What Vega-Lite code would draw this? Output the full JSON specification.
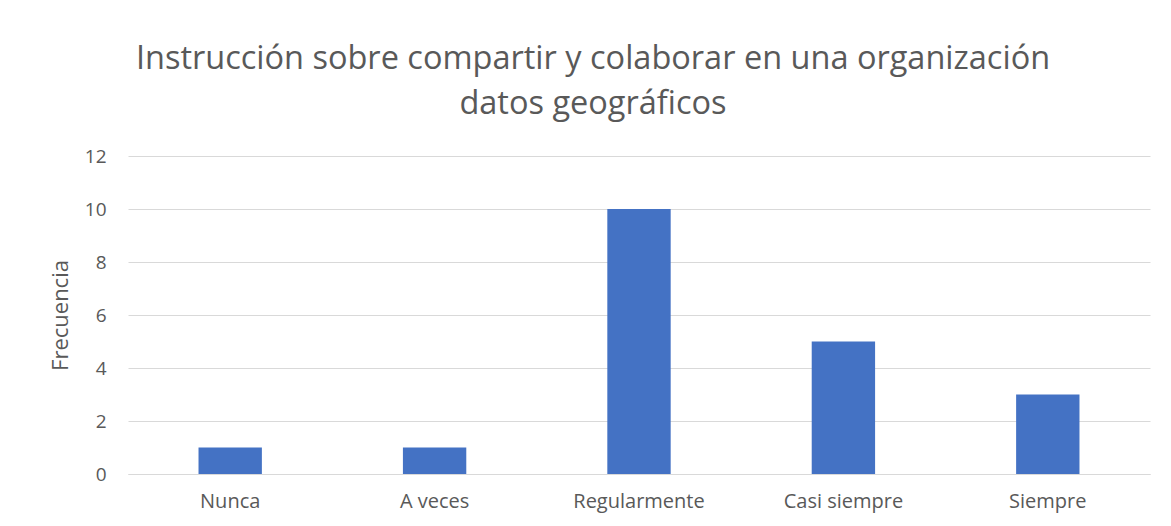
{
  "$schema": "https://vega.github.io/schema/vega-lite/v6.json",
  "width": 1022,
  "height": 318,
  "autosize": {"type": "none"},
  "padding": {"left": 128, "top": 156, "right": 21, "bottom": 52},
  "background": "white",
  "config": {
    "view": {"stroke": null},
    "font": "Open Sans"
  },
  "title": {
    "text": ["Instrucción sobre compartir y colaborar en una organización", "datos geográficos"],
    "fontSize": 32.5,
    "fontWeight": "normal",
    "color": "#595959",
    "font": "Open Sans",
    "anchor": "middle",
    "lineHeight": 45,
    "offset": 27,
    "dx": -46
  },
  "data": {
    "values": [
      {"categoria": "Nunca", "frecuencia": 1},
      {"categoria": "A veces", "frecuencia": 1},
      {"categoria": "Regularmente", "frecuencia": 10},
      {"categoria": "Casi siempre", "frecuencia": 5},
      {"categoria": "Siempre", "frecuencia": 3}
    ]
  },
  "mark": {"type": "bar", "color": "#4472C4", "width": {"band": 0.31}},
  "encoding": {
    "x": {
      "field": "categoria",
      "type": "nominal",
      "sort": null,
      "scale": {"paddingInner": 0, "paddingOuter": 0},
      "axis": {
        "title": null,
        "labelAngle": 0,
        "labelFontSize": 20,
        "labelColor": "#595959",
        "labelPadding": 17,
        "ticks": false,
        "domainColor": "#d9d9d9",
        "domainWidth": 1
      }
    },
    "y": {
      "field": "frecuencia",
      "type": "quantitative",
      "scale": {"domain": [0, 12]},
      "axis": {
        "title": "Frecuencia",
        "titleFontSize": 22,
        "titleFontWeight": "normal",
        "titleColor": "#595959",
        "titlePadding": 12,
        "values": [0, 2, 4, 6, 8, 10, 12],
        "labelFontSize": 19,
        "labelColor": "#595959",
        "labelPadding": 22,
        "ticks": false,
        "domain": false,
        "gridColor": "#d9d9d9",
        "gridWidth": 1
      }
    }
  }
}
